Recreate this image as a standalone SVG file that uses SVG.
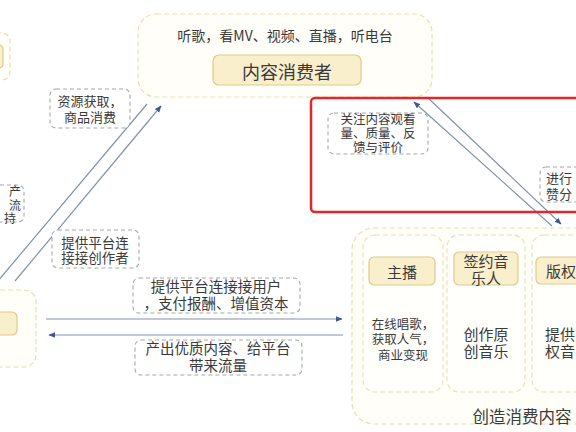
<svg xmlns="http://www.w3.org/2000/svg" width="576" height="432" viewBox="0 0 576 432">
<defs>
<style>
text{font-family:"Liberation Serif","Noto Sans CJK SC",sans-serif;fill:#3a3a3a;text-anchor:middle;dominant-baseline:central}
text.cjk{font-family:"Noto Sans CJK SC","Noto Sans",sans-serif}
.outer{fill:#fffef8;stroke:#e6e0b0;stroke-width:1.2;stroke-dasharray:5 3}
.col{fill:#fffffb;stroke:#e4dfb8;stroke-width:1.1;stroke-dasharray:5 3}
.title{fill:#faefcd;stroke:#dccb8c;stroke-width:1.2}
.lbl{fill:#fff;stroke:#a8a8a8;stroke-width:1.1;stroke-dasharray:4 3}
.conn{stroke:#8391ab;stroke-width:1.2;fill:none}
.t13{font-size:13px}
.t14{font-size:14.5px}
</style>
<marker id="ah" viewBox="0 0 10 10" refX="9" refY="5" markerWidth="7" markerHeight="7" orient="auto" markerUnits="userSpaceOnUse">
<path d="M0,1 L10,5 L0,9 Z" fill="#3f5a8c"/>
</marker>
</defs>
<rect width="576" height="432" fill="#ffffff"/>

<g id="node-left-top">
<rect class="outer" x="-20" y="33" width="30" height="47" rx="8"/>
<rect class="title" x="-20" y="45" width="23" height="23" rx="4"/>
</g>

<g id="node-consumer">
<rect class="outer" x="138" y="14" width="294" height="83" rx="18"/>
<text class="cjk" x="285" y="35" font-size="14">听歌，看MV、视频、直播，听电台</text>
<rect class="title" x="213" y="55" width="148" height="30" rx="6"/>
<text class="cjk" x="287" y="71" font-size="18">内容消费者</text>
</g>

<g id="node-left-bottom">
<rect class="outer" x="-20" y="290" width="56" height="77" rx="12"/>
<rect class="title" x="-20" y="312" width="37" height="23" rx="5"/>
</g>

<g id="node-creators">
<rect class="outer" x="352" y="228" width="260" height="196" rx="22"/>
<rect class="col" x="363" y="235" width="80" height="157" rx="12"/>
<rect class="col" x="447" y="235" width="78" height="157" rx="12"/>
<rect class="col" x="532" y="235" width="80" height="157" rx="12"/>
<rect class="title" x="369" y="257" width="66" height="28" rx="5"/>
<text class="cjk" x="402" y="271" font-size="15">主播</text>
<rect class="title" x="454" y="252" width="64" height="33" rx="5"/>
<text font-size="15"><tspan x="486" y="262">签约音</tspan><tspan x="486" y="279">乐人</tspan></text>
<rect class="title" x="536" y="257" width="60" height="27" rx="5"/>
<text class="cjk" x="546" y="270" font-size="15" style="text-anchor:start">版权</text>
<text font-size="12.5"><tspan x="403" y="325">在线唱歌，</tspan><tspan x="403" y="340">获取人气，</tspan><tspan x="403" y="356">商业变现</tspan></text>
<text font-size="15"><tspan x="486" y="335">创作原</tspan><tspan x="486" y="352">创音乐</tspan></text>
<text font-size="15" style="text-anchor:start"><tspan x="545" y="335">提供</tspan><tspan x="545" y="352">权音</tspan></text>
<text class="cjk" x="522" y="416" font-size="16.5">创造消费内容</text>
</g>

<g id="connectors">
<line class="conn" x1="147" y1="104" x2="-8" y2="288"/>
<line class="conn" x1="15" y1="281" x2="161" y2="106" marker-end="url(#ah)"/>
<line class="conn" x1="552" y1="226" x2="414" y2="102" marker-end="url(#ah)"/>
<line class="conn" x1="427" y1="97" x2="561" y2="224" marker-end="url(#ah)"/>
<line class="conn" x1="46" y1="319" x2="342" y2="319" marker-end="url(#ah)"/>
<line class="conn" x1="343" y1="335" x2="49" y2="335" marker-end="url(#ah)"/>
</g>

<g id="label-resource">
<rect class="lbl" x="50" y="89" width="80" height="39" rx="6"/>
<text class="t13"><tspan x="90" y="101">资源获取，</tspan><tspan x="90" y="117">商品消费</tspan></text>
</g>

<g id="label-left-partial">
<rect class="lbl" x="-20" y="185" width="44" height="37" rx="6"/>
<text font-size="12"><tspan x="15" y="192">产</tspan><tspan x="15" y="205.5">流</tspan><tspan x="10" y="219">持</tspan></text>
</g>

<g id="label-platform-creator">
<rect class="lbl" x="52" y="230" width="87" height="38" rx="6"/>
<text font-size="13.5"><tspan x="95" y="243">提供平台连</tspan><tspan x="95" y="258">接接创作者</tspan></text>
</g>

<g id="label-platform-user">
<rect class="lbl" x="133" y="278" width="167" height="35" rx="6"/>
<text class="t14"><tspan x="216" y="287">提供平台连接接用户</tspan><tspan x="216" y="304">，支付报酬、增值资本</tspan></text>
</g>

<g id="label-output">
<rect class="lbl" x="135" y="340" width="167" height="35" rx="6"/>
<text class="t14"><tspan x="218" y="349">产出优质内容、给平台</tspan><tspan x="218" y="366">带来流量</tspan></text>
</g>

<g id="label-attention">
<rect class="lbl" x="328" y="113" width="100" height="41" rx="6"/>
<text font-size="12.5"><tspan x="378" y="120">关注内容观看</tspan><tspan x="378" y="134">量、质量、反</tspan><tspan x="378" y="148">馈与评价</tspan></text>
</g>

<g id="label-right-partial">
<rect class="lbl" x="540" y="167" width="60" height="35" rx="6"/>
<text class="t13" style="text-anchor:start"><tspan x="546" y="178">进行</tspan><tspan x="546" y="194">赞分</tspan></text>
</g>

<rect x="311" y="98" width="290" height="114" rx="4" fill="none" stroke="#e3262b" stroke-width="2.5"/>
</svg>
